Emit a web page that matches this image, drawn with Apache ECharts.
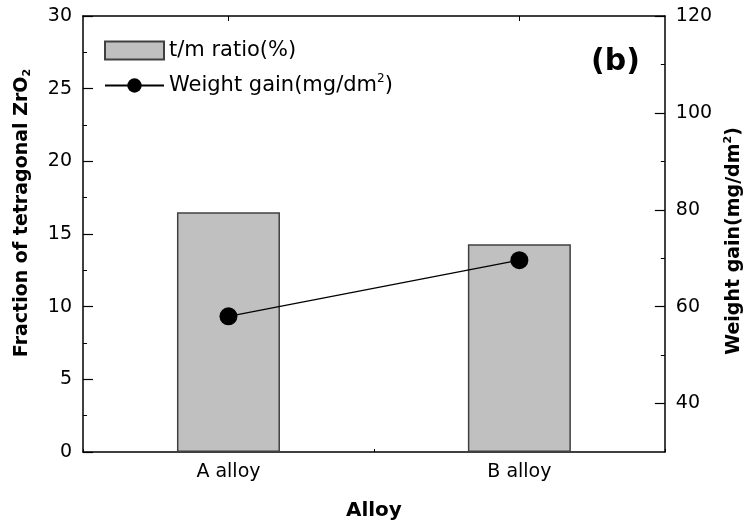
<!DOCTYPE html>
<html>
<head>
<meta charset="utf-8">
<script src="https://cdn.jsdelivr.net/npm/echarts@6/dist/echarts.min.js"></script>
<style>
  html, body { margin: 0; padding: 0; background: #fff; }
  #chart { width: 752px; height: 527px; }
</style>
</head>
<body>
<div id="chart"></div>
<script>
// Alloy categories and measured values
const alloys = ['A alloy', 'B alloy'];
const tmRatio = [16.5, 14.3];        // fraction of tetragonal ZrO2 (%)
const weightGain = [58.0, 69.6];     // mg/dm^2

// Tick values on the weight-gain axis
const weightMajorTicks = [40, 60, 80, 100, 120];
const weightMinorTicks = [50, 70, 90, 110];

const FONT = 'DejaVu Sans';
const ink = '#000';

const chart = echarts.init(document.getElementById('chart'), null, { renderer: 'canvas' });

const baseLine = { show: true, lineStyle: { color: ink, width: 1.5 } };

chart.setOption({
  animation: false,
  backgroundColor: '#fff',
  grid: { left: 83, right: 79, top: 16, bottom: 75, containLabel: false },
  legend: {
    orient: 'vertical',
    left: 99,
    top: 35,
    itemWidth: 59,
    itemHeight: 18,
    itemGap: 12,
    selectedMode: false,
    textStyle: {
      fontFamily: FONT, fontSize: 21, color: ink,
      rich: {
        n: { fontFamily: FONT, fontSize: 21, color: ink },
        sup: { fontFamily: FONT, fontSize: 12, color: ink, padding: [0, 0, 13, 0] }
      }
    },
    formatter: function (name) {
      if (name === 'Weight gain') return '{n|Weight gain(mg/dm}{sup|2}{n|)}';
      return name;
    },
    data: [
      { name: 't/m ratio(%)', icon: 'rect' },
      { name: 'Weight gain' }
    ]
  },
  xAxis: [
    {
      type: 'category',
      data: alloys,
      position: 'bottom',
      name: 'Alloy',
      nameLocation: 'middle',
      nameGap: 49,
      nameTextStyle: { fontFamily: FONT, fontSize: 20, fontWeight: 'bold', color: ink },
      axisLine: baseLine,
      axisTick: { show: true, inside: true, alignWithLabel: true, length: 9, lineStyle: { color: ink, width: 1.2 } },
      axisLabel: { fontFamily: FONT, fontSize: 19, color: ink, margin: 11 },
      splitLine: { show: false }
    },
    {
      type: 'category',
      data: alloys,
      position: 'top',
      axisLine: baseLine,
      axisTick: { show: true, inside: true, alignWithLabel: true, length: 5, lineStyle: { color: ink, width: 1 } },
      axisLabel: { show: false },
      splitLine: { show: false }
    },
    {
      type: 'category',
      data: alloys,
      position: 'bottom',
      axisLine: { show: false },
      axisTick: { show: true, inside: true, alignWithLabel: false, length: 3, lineStyle: { color: ink, width: 1 } },
      axisLabel: { show: false },
      splitLine: { show: false }
    }
  ],
  yAxis: [
    {
      type: 'value',
      min: 0,
      max: 30,
      interval: 5,
      position: 'left',
      name: '{t|Fraction of tetragonal ZrO}{sub|2}',
      nameLocation: 'middle',
      nameGap: 50,
      nameTextStyle: {
        padding: [0, 0, 0, 42],
        rich: {
          t: { fontFamily: FONT, fontSize: 19, fontWeight: 'bold', color: ink },
          sub: { fontFamily: FONT, fontSize: 11, fontWeight: 'bold', color: ink, padding: [10, 0, 0, 0] }
        }
      },
      axisLine: baseLine,
      axisTick: { show: true, inside: true, length: 10, lineStyle: { color: ink, width: 1.2 } },
      minorTick: { show: true, splitNumber: 2, length: 4, lineStyle: { color: ink, width: 1 } },
      axisLabel: { fontFamily: FONT, fontSize: 19, color: ink, margin: 11 },
      splitLine: { show: false },
      minorSplitLine: { show: false }
    },
    {
      type: 'value',
      min: 30,
      max: 120,
      interval: 10,
      position: 'right',
      name: '{t|Weight gain(mg/dm}{sup|2}{t|)}',
      nameLocation: 'middle',
      nameGap: 56,
      nameRotate: 90,
      nameTextStyle: {
        padding: [0, 14, 0, 0],
        rich: {
          t: { fontFamily: FONT, fontSize: 19, fontWeight: 'bold', color: ink },
          sup: { fontFamily: FONT, fontSize: 11, fontWeight: 'bold', color: ink, padding: [0, 0, 12, 0] }
        }
      },
      axisLine: baseLine,
      axisTick: { show: true, inside: true, length: 10, customValues: weightMajorTicks, lineStyle: { color: ink, width: 1.2 } },
      axisLabel: { fontFamily: FONT, fontSize: 19, color: ink, margin: 11, customValues: weightMajorTicks },
      splitLine: { show: false }
    },
    {
      type: 'value',
      min: 30,
      max: 120,
      interval: 10,
      position: 'right',
      axisLine: { show: false },
      axisTick: { show: true, inside: true, length: 4, customValues: weightMinorTicks, lineStyle: { color: ink, width: 1 } },
      axisLabel: { show: false },
      splitLine: { show: false }
    }
  ],
  series: [
    {
      name: 't/m ratio(%)',
      type: 'bar',
      xAxisIndex: 0,
      yAxisIndex: 0,
      data: tmRatio,
      barWidth: 103,
      itemStyle: { color: '#c0c0c0', borderColor: '#404040', borderWidth: 1.5 },
      z: 2
    },
    {
      name: 'Weight gain',
      type: 'line',
      xAxisIndex: 0,
      yAxisIndex: 1,
      data: weightGain,
      symbol: 'circle',
      symbolSize: 18,
      lineStyle: { color: ink, width: 1.2 },
      itemStyle: { color: ink },
      z: 5
    }
  ],
  graphic: [
    {
      type: 'text',
      left: 591,
      top: 47,
      style: { text: '(b)', fontFamily: FONT, fontSize: 30, fontWeight: 'bold', fill: ink }
    }
  ]
});
</script>
</body>
</html>
